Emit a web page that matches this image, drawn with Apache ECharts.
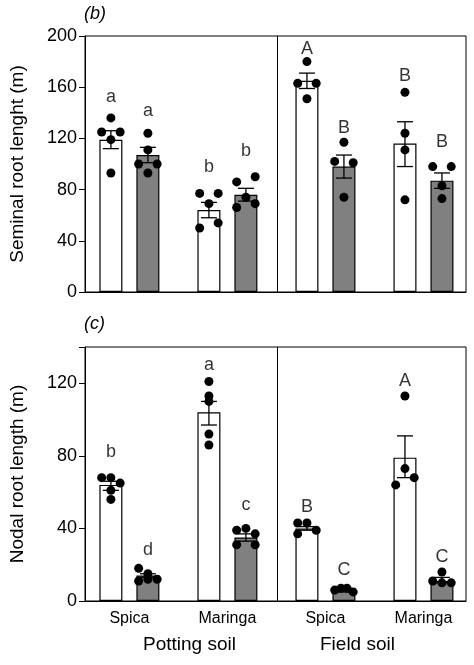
<!DOCTYPE html><html><head><meta charset="utf-8">
<script src="https://cdn.jsdelivr.net/npm/echarts@6/dist/echarts.min.js"></script>
<style>html,body{margin:0;background:#fff}#c{width:474px;height:665px}</style></head><body><div id="c"></div>
<script>
const barPos=[0.7,1.7,3.35,4.35,6.0,7.0,8.65,9.65];
const varieties=['Spica','Maringa','Spica','Maringa'];
const soils=['Potting soil','Field soil'];
// seminal (b)
const semMean=[119,107,64,76,165,98,116,87];
const semErr=[[112,126],[101,113],[58,70],[71,81],[159,171],[89,107],[98,133],[81,93]];
const semLetters=['a','a','b','b','A','B','B','B'];
const semLetterY=[152,141,98,110,190,128,169,117];
const semDots=[[136,125,125,119,93],[124,111,100,100,93],[77,77,69,50,54],[86,90,74,66,69],[180,163,163,151],[117,102,101,74],[156,124,111,72],[98,98,83,73]];
const semJit=[[0,-0.25,0.25,0,0],[0,0,-0.25,0.25,0],[-0.25,0.25,0,-0.25,0.25],[-0.25,0.25,0,-0.25,0.25],[0,-0.25,0.25,0],[0,-0.25,0.25,0],[0,0,0,0],[-0.25,0.25,0,0]];
// nodal (c)
const nodMean=[64,14,104,35,40,6,79,11];
const nodErr=[[61,66],[13,15],[97,110],[33,37],[39,41],[5,7],[68,91],[10,13]];
const nodLetters=['b','d','a','c','B','C','A','C'];
const nodLetterY=[82,28,130,53,52,17,121,24];
const nodDots=[[68,68,65,61,56],[18,15,11,12,12],[121,113,110,92,86],[39,40,37,31,31],[43,43,39,37],[6,7,7,5],[113,73,64,68],[16,11,10,10]];
const nodJit=[[-0.25,0,0.25,0,0],[-0.25,0,-0.25,0,0.25],[0,0,0,0,0],[-0.25,0,0.25,-0.25,0.25],[-0.25,0,0.25,-0.25],[-0.25,-0.08,0.08,0.25],[0,0,-0.25,0.25],[0,-0.25,0.25,0]];

const F='Liberation Sans, Arial, sans-serif';
function build(mean,err,letters,ly,dots,jit,gi){
  const s=[];
  s.push({type:'bar',xAxisIndex:gi,yAxisIndex:gi,barWidth:23,barGap:'-100%',
    data:mean.map((v,i)=>({value:[barPos[i],v],itemStyle:{color:i%2?'#808080':'#fff',borderColor:'#000',borderWidth:1.2}})),
    markLine:{silent:true,symbol:'none',label:{show:false},lineStyle:{color:'#000',width:1,type:'solid'},data:[{xAxis:5.19}]}});
  s.push({type:'custom',xAxisIndex:gi,yAxisIndex:gi,z:5,
    data:err.map((e,i)=>[barPos[i],e[0],e[1]]),
    renderItem:(p,api)=>{const lo=api.coord([api.value(0),api.value(1)]);const hi=api.coord([api.value(0),api.value(2)]);const w=8;
      return {type:'group',children:[
        {type:'line',shape:{x1:lo[0],y1:lo[1],x2:hi[0],y2:hi[1]},style:{stroke:'#000',lineWidth:1.3}},
        {type:'line',shape:{x1:lo[0]-w,y1:lo[1],x2:lo[0]+w,y2:lo[1]},style:{stroke:'#000',lineWidth:1.3}},
        {type:'line',shape:{x1:hi[0]-w,y1:hi[1],x2:hi[0]+w,y2:hi[1]},style:{stroke:'#000',lineWidth:1.3}}]};}});
  const pts=[];dots.forEach((d,i)=>d.forEach((v,j)=>pts.push([barPos[i]+jit[i][j],v])));
  s.push({type:'scatter',xAxisIndex:gi,yAxisIndex:gi,z:6,symbolSize:9,itemStyle:{color:'#000',opacity:1},data:pts});
  s.push({type:'scatter',xAxisIndex:gi,yAxisIndex:gi,symbolSize:0,
    data:letters.map((t,i)=>({value:[barPos[i],ly[i]],label:{show:true,formatter:t,position:'inside',fontSize:18,fontFamily:F,color:'#000'}}))});
  return s;
}
const ch=echarts.init(document.getElementById('c'));
const yBase={type:'value',splitLine:{show:false},axisLine:{show:true,lineStyle:{color:'#000'}},axisTick:{show:true,length:6,lineStyle:{color:'#000'}},
  axisLabel:{color:'#000',fontSize:18,fontFamily:F},nameLocation:'middle',nameGap:58,nameTextStyle:{color:'#000',fontSize:19,fontFamily:F}};
ch.setOption({animation:false,
  grid:[{left:85,right:8,top:36,height:256,show:true,borderColor:'#000',borderWidth:1},
        {left:85,right:8,top:347,height:254,show:true,borderColor:'#000',borderWidth:1}],
  xAxis:[{gridIndex:0,type:'value',min:0,max:10.3,show:true,axisLine:{lineStyle:{color:'#000'}},axisTick:{show:false},axisLabel:{show:false},splitLine:{show:false}},
         {gridIndex:1,type:'value',min:0,max:10.3,axisLine:{lineStyle:{color:'#000'}},axisTick:{show:false},splitLine:{show:false},
          axisLabel:{customValues:[1.2,3.85,6.5,9.15],formatter:(v)=>{const k=[1.2,3.85,6.5,9.15].findIndex(x=>Math.abs(x-v)<0.01);return varieties[k]||'';},color:'#000',fontSize:16,fontFamily:F,margin:10}}],
  yAxis:[Object.assign({},yBase,{gridIndex:0,min:0,max:200,interval:40,name:'Seminal root lenght (m)'}),
         Object.assign({},yBase,{gridIndex:1,min:0,max:140,interval:40,name:'Nodal root length (m)',axisLabel:Object.assign({},yBase.axisLabel,{formatter:v=>v>120?'':v})})],
  graphic:[{type:'text',left:84,top:5,style:{text:'(b)',font:'italic 18px '+F,fill:'#000'}},
           {type:'text',left:84,top:315,style:{text:'(c)',font:'italic 18px '+F,fill:'#000'}},
           {type:'text',left:143,top:635,style:{text:soils[0],font:'19px '+F,fill:'#000'}},
           {type:'text',left:320,top:635,style:{text:soils[1],font:'19px '+F,fill:'#000'}}],
  series:[...build(semMean,semErr,semLetters,semLetterY,semDots,semJit,0),...build(nodMean,nodErr,nodLetters,nodLetterY,nodDots,nodJit,1)]
});
</script></body></html>
